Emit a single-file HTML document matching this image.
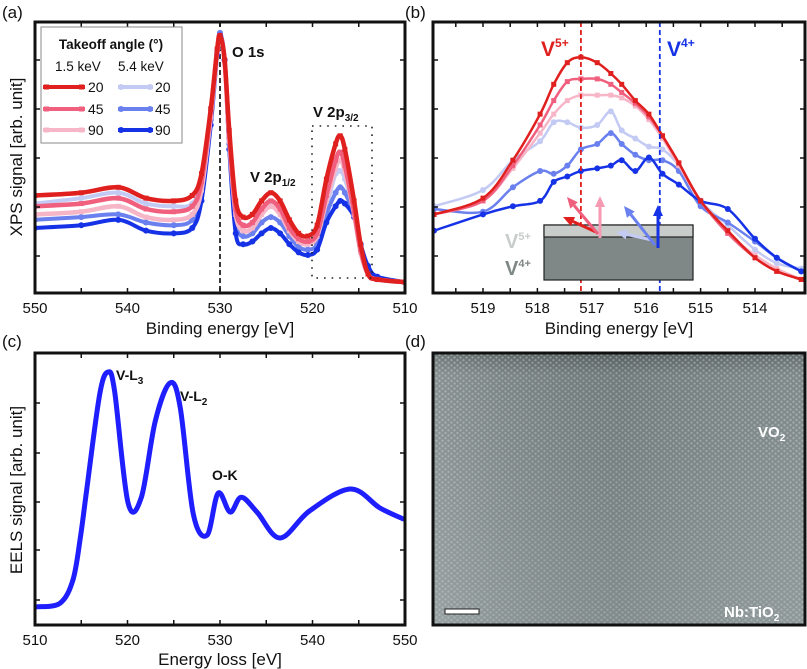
<!DOCTYPE html>
<html><head><meta charset="utf-8"><style>
html,body{margin:0;padding:0;background:#fff;}
svg{display:block;font-family:"Liberation Sans",sans-serif;}
</style></head><body>
<svg id="fig" width="807" height="669" viewBox="0 0 807 669" xmlns="http://www.w3.org/2000/svg">
<defs>
<pattern id="lattice" width="6" height="5.2" patternUnits="userSpaceOnUse">
<circle cx="1.5" cy="1.3" r="1.2" fill="#b4bebe" opacity="0.6"/>
<circle cx="4.5" cy="3.9" r="1.2" fill="#b4bebe" opacity="0.6"/>
</pattern>
<linearGradient id="stemg" x1="0" y1="0" x2="0" y2="1">
<stop offset="0" stop-color="#5a6363"/><stop offset="0.08" stop-color="#788282"/><stop offset="1" stop-color="#8a9494"/>
</linearGradient>
<linearGradient id="stemh" x1="0" y1="0" x2="1" y2="0">
<stop offset="0" stop-color="#ffffff" stop-opacity="0.12"/><stop offset="0.5" stop-color="#000" stop-opacity="0.06"/><stop offset="1" stop-color="#fff" stop-opacity="0.05"/>
</linearGradient>
</defs>
<g id="gA"></g>
<g id="gB"></g>
<g id="gC"></g>
<g id="gD">
<rect x="433" y="353" width="372" height="272" fill="url(#stemg)"/>
<rect x="433" y="353" width="372" height="272" fill="url(#lattice)"/>
<rect x="433" y="353" width="372" height="272" fill="url(#stemh)"/>
<rect x="433" y="353" width="372" height="272" fill="none" stroke="#111" stroke-width="3"/>
<rect x="445" y="609" width="34" height="5" fill="#fff" stroke="#222" stroke-width="1"/>
<text x="758" y="437" font-size="15" font-weight="bold" fill="#fff">VO<tspan font-size="10" dy="4">2</tspan></text>
<text x="724" y="617" font-size="15" font-weight="bold" fill="#fff">Nb:TiO<tspan font-size="10" dy="4">2</tspan></text>
<text x="405" y="347" font-size="17" fill="#111">(d)</text>
</g>
</svg>
<script>
// ===== Panel (a) data =====
const aEnergy = [550,545,541,538,535,533,532,531,530.3,530,529.5,529,528.3,527.5,526.5,525.5,524.5,523.5,522.5,521.5,520.5,519.5,518.5,517.5,517,516.5,515.5,514.8,514,513,510];
const aRed20 = [36,37,39,35,34,36,44,68,90,95,86,60,34,28,29,34,37,34,27,22,21,25,42,55,58,53,34,18,7,5,4];
const aPink45 = [32,33,35,31,30,32,41,67,90,95,86,58,31,25,26,31,34,31,24,20,19,22,36,49,52,47,30,16,7,5,4];
const aLpink90 = [29,30,32,28,27,29,38,65,89,94,85,56,29,23,24,29,32,29,23,19,18,21,34,46,49,45,29,15,7,5,4];
const aLblue20 = [33,35,37,33,32,33,42,68,90,96,86,57,29,25,26,30,32,30,24,20,19,21,32,44,45,42,30,18,9,5,4];
const aBlue45 = [27,28,29,26,25,27,37,64,89,96,86,55,26,21,22,26,28,26,21,17,16,18,29,37,39,37,29,18,9,6,4];
const aDblue90 = [24,25,27,23,22,24,34,62,88,95,86,53,22,18,19,22,24,22,18,15,14,16,26,32,34,33,28,18,10,6,4];
const aTickLabels = [550,540,530,520,510];
// ===== Panel (b) data =====
const bEnergy = [519.9,519.0,518.45,517.95,517.7,517.45,517.2,516.9,516.65,516.45,516.2,515.95,515.7,515.4,515.0,514.5,514.0,513.6,513.15];
const bRed20 = [29,35,49,66,77,85,87,85,81,77,71,66,58,48,34,23,13,8,5];
const bPink45 = [29,34,47,62,71,78,79,79,77,74,70,65,58,48,34,22,13,8,5];
const bLpink90 = [29,34,46,59,66,71,73,73,73,72,69,64,57,47,34,22,14,9,5];
const bLblue20 = [32,38,49,56,63,63,61,62,67,60,57,54,53,47,34,25,16,11,9];
const bBlue45 = [31,30,39,45,44,47,53,55,59,55,51,49,49,45,32,26,19,13,8];
const bDblue90 = [23,29,32,34,41,43,45,46,47,49,45,50,44,40,34,31,20,13,8];
const bTickLabels = [519,518,517,516,515,514];
// ===== Panel (c) data =====
const cEnergy = [510.2,512.7,514.1,514.9,515.6,517.0,517.9,518.6,520.05,521.5,523.0,524.6,525.7,527.1,528.6,529.8,531.1,532.3,534.0,536.5,539.7,544.1,547.3,549.8];
const cEels = [6.7,8,16.5,32,50,85,93,86,45,47,75,89,80,41,33,48.5,41.5,47,41.5,32,42,50,43,39];
const cTickLabels = [510,520,530,540,550];

const NS = "http://www.w3.org/2000/svg";
function mk(parent, tag, attrs){const e=document.createElementNS(NS,tag);for(const k in attrs)e.setAttribute(k,attrs[k]);parent.appendChild(e);return e;}
function axisX(x0,x1,e0,e1){return e=>x0+(e-e0)/(e1-e0)*(x1-x0);}
function axisY(y0,y1){return v=>y0-(v/100)*(y0-y1);}
function smoothPath(pts){
  let d="M"+pts[0][0].toFixed(1)+","+pts[0][1].toFixed(1);
  for(let i=0;i<pts.length-1;i++){
    const p0=pts[i-1]||pts[i],p1=pts[i],p2=pts[i+1],p3=pts[i+2]||p2;
    const c1=[p1[0]+(p2[0]-p0[0])/6,p1[1]+(p2[1]-p0[1])/6];
    const c2=[p2[0]-(p3[0]-p1[0])/6,p2[1]-(p3[1]-p1[1])/6];
    d+="C"+c1[0].toFixed(1)+","+c1[1].toFixed(1)+" "+c2[0].toFixed(1)+","+c2[1].toFixed(1)+" "+p2[0].toFixed(1)+","+p2[1].toFixed(1);
  }
  return d;
}
function series(g,xs,vals,X,Y,color,marker,w,name){
  const pts=xs.map((e,i)=>[X(e),Y(vals[i])]);
  const sg=mk(g,"g",{});
  
  
  const p=mk(sg,"path",{d:smoothPath(pts),fill:"none",stroke:color,"stroke-width":w,"stroke-linejoin":"round","stroke-linecap":"round"});
  
  
  pts.forEach(pt=>{
    let m;
    if(marker==="s") m=mk(sg,"rect",{x:pt[0]-2.5,y:pt[1]-2.5,width:5,height:5,fill:color});
    else m=mk(sg,"circle",{cx:pt[0],cy:pt[1],r:marker==="c"?3:1.6,fill:color});
    
    
  });
}
function frame(g,x0,y0,x1,y1,xticks,X,ylist,minor,name){
  xticks.forEach(t=>{const x=X(t);
    const a=mk(g,"line",{x1:x,y1:y1,x2:x,y2:y1-5,stroke:"#111","stroke-width":1.5});
    
    
    const b=mk(g,"line",{x1:x,y1:y0,x2:x,y2:y0+5,stroke:"#111","stroke-width":1.5});
    
    
  });
  ylist.forEach(y=>{
    const a=mk(g,"line",{x1:x0,y1:y,x2:x0+5,y2:y,stroke:"#111","stroke-width":1.5});
    
    
    const b=mk(g,"line",{x1:x1,y1:y,x2:x1-5,y2:y,stroke:"#111","stroke-width":1.5});
    
    
  });
  const r=mk(g,"rect",{x:x0,y:y0,width:x1-x0,height:y1-y0,fill:"none",stroke:"#111","stroke-width":3});
  
  
}
function txt(g,x,y,s,attrs,name){const t=mk(g,"text",Object.assign({x:x,y:y},attrs));t.innerHTML=s;return t;}

const RED="#e0201e",PINK="#f0607e",LPINK="#f7b6c8",LBLUE="#c3cbf5",BLUE="#6a80ee",DBLUE="#1632e6";

// ---------- Panel A ----------
(function(){
  const g=document.getElementById("gA");
  const X=axisX(35,405,550,510), Y=axisY(293,22);
  const clip=mk(g,"clipPath",{id:"clipA"});mk(clip,"rect",{x:35,y:22,width:370,height:271});
  const cg=mk(g,"g",{"clip-path":"url(#clipA)"});
  
  
  const dl=mk(cg,"line",{x1:X(530),y1:22,x2:X(530),y2:293,stroke:"#222","stroke-width":1.8,"stroke-dasharray":"5,3"});
  
  
  series(cg,aEnergy,aLblue20,X,Y,LBLUE,"c",4,"series-5.4kev-20");
  series(cg,aEnergy,aBlue45,X,Y,BLUE,"c",4,"series-5.4kev-45");
  series(cg,aEnergy,aDblue90,X,Y,DBLUE,"c",4,"series-5.4kev-90");
  series(cg,aEnergy,aLpink90,X,Y,LPINK,"s",4.5,"series-1.5kev-90");
  series(cg,aEnergy,aPink45,X,Y,PINK,"s",4.5,"series-1.5kev-45");
  series(cg,aEnergy,aRed20,X,Y,RED,"s",4.5,"series-1.5kev-20");
  const box=mk(g,"rect",{x:312,y:126,width:60,height:152,fill:"none",stroke:"#222","stroke-width":1.6,"stroke-dasharray":"1.6,6"});
  
  
  const xt=[];for(let e=550;e>=510;e-=5)xt.push(e);
  frame(g,35,22,405,293,xt,X,[60,109,158,207,256],null,"panel-a");
  aTickLabels.forEach(t=>txt(g,X(t),313,t,{"font-size":15,"text-anchor":"middle",fill:"#111"},"panel-a-x-tick-label"));
  txt(g,220,334,"Binding energy [eV]",{"font-size":17,"text-anchor":"middle",fill:"#111"},"panel-a-x-axis-title");
  txt(g,0,0,"XPS signal [arb. unit]",{"font-size":17,"text-anchor":"middle",fill:"#111",transform:"translate(22,157) rotate(-90)"},"panel-a-y-axis-title");
  txt(g,2,18,"(a)",{"font-size":17,fill:"#111"},"panel-label-a");
  txt(g,232,57,"O 1s",{"font-size":15,"font-weight":"bold",fill:"#111"},"o1s-label");
  txt(g,250,182,"V 2p<tspan font-size='10' dy='4'>1/2</tspan>",{"font-size":15,"font-weight":"bold",fill:"#111"},"v2p12-label");
  txt(g,313,117,"V 2p<tspan font-size='10' dy='4'>3/2</tspan>",{"font-size":15,"font-weight":"bold",fill:"#111"},"v2p32-label");
  // legend
  const lg=mk(g,"g",{});
  
  
  const lb=mk(lg,"rect",{x:41,y:27,width:141,height:116,fill:"#fff",stroke:"#888","stroke-width":1});
  
  
  txt(lg,111,49,"Takeoff angle (°)",{"font-size":13.5,"font-weight":"bold","text-anchor":"middle",fill:"#111"},"legend-title");
  txt(lg,55,71,"1.5 keV",{"font-size":13.5,fill:"#111"},"legend-col-1.5kev");
  txt(lg,118,71,"5.4 keV",{"font-size":13.5,fill:"#111"},"legend-col-5.4kev");
  const rows=[[87,"20",RED,LBLUE],[109,"45",PINK,BLUE],[130,"90",LPINK,DBLUE]];
  rows.forEach(r=>{
    [[43,85,r[2],"s",88],[118,153,r[3],"c",155]].forEach(c=>{
      const e=mk(lg,"g",{});
      
      
      mk(e,"line",{x1:c[0],y1:r[0],x2:c[1],y2:r[0],stroke:c[2],"stroke-width":4});
      if(c[3]==="s"){mk(e,"rect",{x:c[0]+1,y:r[0]-2.5,width:5,height:5,fill:c[2]});mk(e,"rect",{x:c[1]-6,y:r[0]-2.5,width:5,height:5,fill:c[2]});}
      else{mk(e,"circle",{cx:c[0]+3,cy:r[0],r:3,fill:c[2]});mk(e,"circle",{cx:c[1]-3,cy:r[0],r:3,fill:c[2]});}
      txt(e,c[4],r[0]+5,r[1],{"font-size":14,fill:"#111"},"legend-label");
    });
  });
})();

// ---------- Panel B ----------
(function(){
  const g=document.getElementById("gB");
  const X=axisX(483,755,519,514), Y=axisY(293,22);
  const clip=mk(g,"clipPath",{id:"clipB"});mk(clip,"rect",{x:433,y:22,width:372,height:271});
  const cg=mk(g,"g",{"clip-path":"url(#clipB)"});
  
  
  series(cg,bEnergy,bLblue20,X,Y,LBLUE,"c",2.5,"b-series-5.4kev-20");
  series(cg,bEnergy,bBlue45,X,Y,BLUE,"c",2.5,"b-series-5.4kev-45");
  series(cg,bEnergy,bDblue90,X,Y,DBLUE,"c",2.5,"b-series-5.4kev-90");
  series(cg,bEnergy,bLpink90,X,Y,LPINK,"s",2.5,"b-series-1.5kev-90");
  series(cg,bEnergy,bPink45,X,Y,PINK,"s",2.5,"b-series-1.5kev-45");
  series(cg,bEnergy,bRed20,X,Y,RED,"s",2.5,"b-series-1.5kev-20");
  const l1=mk(g,"line",{x1:X(517.2),y1:22,x2:X(517.2),y2:293,stroke:RED,"stroke-width":1.8,"stroke-dasharray":"5,3"});
  
  
  const l2=mk(g,"line",{x1:X(515.75),y1:22,x2:X(515.75),y2:293,stroke:DBLUE,"stroke-width":1.8,"stroke-dasharray":"5,3"});
  
  
  // inset
  const ig=mk(g,"g",{});
  
  
  mk(ig,"rect",{x:544,y:225,width:149,height:55,fill:"#7f8886",stroke:"#222","stroke-width":1.2});
  mk(ig,"rect",{x:544,y:225,width:149,height:12,fill:"#c8ccca",stroke:"#222","stroke-width":1.2});
  function arrow(x1,y1,x2,y2,c,name){
    const a=mk(ig,"g",{});
    
    
    const ang=Math.atan2(y2-y1,x2-x1),L=11,W=5;
    const bx=x2-L*Math.cos(ang),by=y2-L*Math.sin(ang);
    mk(a,"line",{x1:x1,y1:y1,x2:bx,y2:by,stroke:c,"stroke-width":3});
    mk(a,"polygon",{points:`${x2},${y2} ${bx+W*Math.sin(ang)},${by-W*Math.cos(ang)} ${bx-W*Math.sin(ang)},${by+W*Math.cos(ang)}`,fill:c});
  }
  arrow(596,232,563,217,RED,"arrow-20-deg-1.5kev");
  arrow(598,234,567,197,PINK,"arrow-45-deg-1.5kev");
  arrow(600,238,600,196,"#f59ab2","arrow-90-deg-1.5kev");
  arrow(652,240,616,232,LBLUE,"arrow-20-deg-5.4kev");
  arrow(655,245,624,206,BLUE,"arrow-45-deg-5.4kev");
  arrow(658,248,658,205,DBLUE,"arrow-90-deg-5.4kev");
  txt(ig,505,248,"V<tspan font-size='11' dy='-8'>5+</tspan>",{"font-size":20,"font-weight":"bold",fill:"#c8ccca"},"inset-v5-label");
  txt(ig,505,275,"V<tspan font-size='11' dy='-8'>4+</tspan>",{"font-size":20,"font-weight":"bold",fill:"#7f8886"},"inset-v4-label");
  txt(g,541,56,"V<tspan font-size='12' dy='-9'>5+</tspan>",{"font-size":21,"font-weight":"bold",fill:RED},"v5-label");
  txt(g,667,56,"V<tspan font-size='12' dy='-9'>4+</tspan>",{"font-size":21,"font-weight":"bold",fill:DBLUE},"v4-label");
  const xt=[];for(let e=519.5;e>=513.5;e-=0.5)xt.push(e);
  frame(g,433,22,805,293,xt,X,[60,109,158,207,256],null,"panel-b");
  bTickLabels.forEach(t=>txt(g,X(t),313,t,{"font-size":15,"text-anchor":"middle",fill:"#111"},"panel-b-x-tick-label"));
  txt(g,619,334,"Binding energy [eV]",{"font-size":17,"text-anchor":"middle",fill:"#111"},"panel-b-x-axis-title");
  txt(g,405,18,"(b)",{"font-size":17,fill:"#111"},"panel-label-b");
})();

// ---------- Panel C ----------
(function(){
  const g=document.getElementById("gC");
  const X=axisX(35,405,510,550), Y=axisY(625,353);
  series(g,cEnergy,cEels,X,Y,"#1e1eff","d",5,"eels-spectrum");
  const xt=[];for(let e=510;e<=550;e+=5)xt.push(e);
  frame(g,35,353,405,625,xt,X,[403,453,502,550,600],null,"panel-c");
  cTickLabels.forEach(t=>txt(g,X(t),645,t,{"font-size":15,"text-anchor":"middle",fill:"#111"},"panel-c-x-tick-label"));
  txt(g,220,665,"Energy loss [eV]",{"font-size":17,"text-anchor":"middle",fill:"#111"},"panel-c-x-axis-title");
  txt(g,0,0,"EELS signal [arb. unit]",{"font-size":17,"text-anchor":"middle",fill:"#111",transform:"translate(22,490) rotate(-90)"},"panel-c-y-axis-title");
  txt(g,2,347,"(c)",{"font-size":17,fill:"#111"},"panel-label-c");
  txt(g,116,380,"V-L<tspan font-size='10' dy='4'>3</tspan>",{"font-size":14,"font-weight":"bold",fill:"#111"},"v-l3-label");
  txt(g,180,401,"V-L<tspan font-size='10' dy='4'>2</tspan>",{"font-size":14,"font-weight":"bold",fill:"#111"},"v-l2-label");
  txt(g,212,480,"O-K",{"font-size":14,"font-weight":"bold",fill:"#111"},"o-k-label");
})();
</script>
</body></html>
